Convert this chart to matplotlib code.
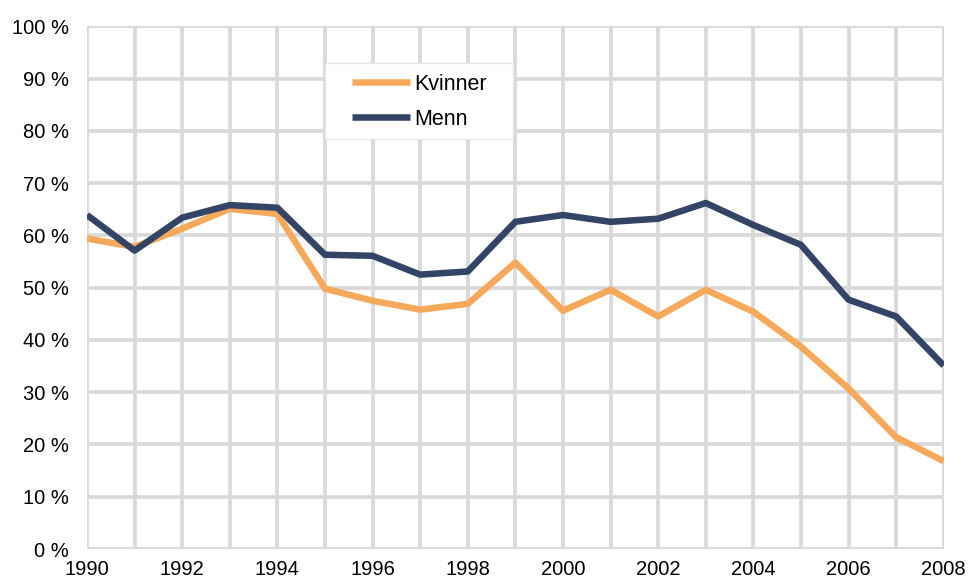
import numpy as np
import matplotlib
matplotlib.use('Agg')
from matplotlib import pyplot as plt
from matplotlib.patches import Rectangle
from matplotlib.ticker import FuncFormatter

plt.rcParams['font.family'] = ['Liberation Sans', 'DejaVu Sans']
plt.rcParams['font.size'] = 14.5

years = list(range(1990, 2009))
kvinner = [59.4, 57.8, 61.3, 65.1, 64.1, 49.8, 47.5, 45.8, 46.9, 54.8,
           45.6, 49.6, 44.5, 49.6, 45.4, 38.7, 30.7, 21.4, 16.8]
menn = [63.9, 57.1, 63.4, 65.8, 65.3, 56.3, 56.1, 52.5, 53.1, 62.6,
        63.9, 62.6, 63.2, 66.2, 62.0, 58.2, 47.7, 44.5, 35.1]

fig = plt.figure(figsize=(9.68, 5.82), dpi=100)
ax = fig.add_axes([0.0899, 0.0567, 0.885, 0.898])

ax.plot(years, kvinner, color='#F6A95B', lw=4.7, label='Kvinner', solid_capstyle='butt')
ax.plot(years, menn, color='#334466', lw=4.7, label='Menn', solid_capstyle='butt')

ax.set_xlim(1990, 2008)
ax.set_ylim(0, 100)
ax.set_xticks(range(1990, 2009, 2))
ax.set_xticks(range(1990, 2009), minor=True)
ax.set_yticks(range(0, 101, 10))
ax.yaxis.set_major_formatter(FuncFormatter(lambda v, p: '%d %%' % v))
ax.grid(True, which='both', color='#D9D9D9', lw=2.7)
ax.set_axisbelow(True)
for s in ax.spines.values():
    s.set_visible(False)
ax.tick_params(which='both', length=0)
ax.tick_params(axis='y', pad=13)
ax.tick_params(axis='x', pad=8)

# legend box drawn by hand (wider side margins than matplotlib's frame)
box = Rectangle((0.3357, 0.7612), 0.1942, 0.1306, transform=fig.transFigure,
                facecolor='white', edgecolor='#E6E6E6', lw=1, zorder=3)
ax.add_artist(box)
box.set_clip_on(False)

leg = ax.legend(loc='upper left', bbox_to_anchor=(0.3636, 0.873), bbox_transform=fig.transFigure,
                frameon=False, handlelength=2.7, handletextpad=0.2, borderpad=0,
                borderaxespad=0, labelspacing=0.65, fontsize=15.5)
leg.set_zorder(5)

plt.savefig('out.png', dpi=100)
